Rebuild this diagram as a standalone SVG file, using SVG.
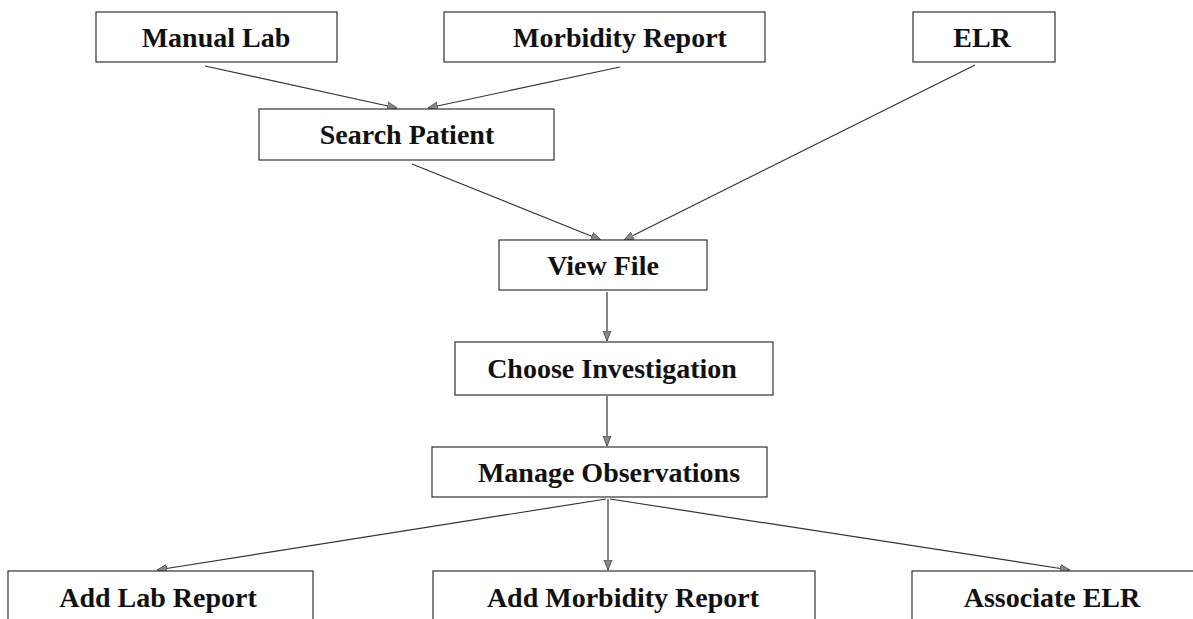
<svg xmlns="http://www.w3.org/2000/svg" width="1193" height="619" viewBox="0 0 1193 619">
<style>
.box{fill:#fff;stroke:#333;stroke-width:1.2}
.lbl{font-family:"Liberation Serif","Times New Roman",serif;font-weight:bold;font-size:28px;fill:#111;text-anchor:middle}
.con{stroke:#333;stroke-width:1.2;fill:none;marker-end:url(#ah)}
</style>
<defs>
<marker id="ah" viewBox="0 0 10 10" refX="10" refY="5" markerWidth="10" markerHeight="10" markerUnits="userSpaceOnUse" orient="auto">
<path d="M0,1 L10,5 L0,9 Z" fill="#888" stroke="#444" stroke-width="0.8"/>
</marker>
</defs>
<rect width="1193" height="619" fill="#fff"/>
<g id="connectors">
<line class="con" x1="205" y1="66" x2="397" y2="108"/>
<line class="con" x1="620" y1="67" x2="428" y2="108"/>
<line class="con" x1="412" y1="164" x2="601" y2="240"/>
<line class="con" x1="975" y1="65" x2="624" y2="240"/>
<line class="con" x1="607" y1="292" x2="607" y2="341"/>
<line class="con" x1="607" y1="396" x2="607" y2="446"/>
<line class="con" x1="608" y1="499" x2="608" y2="570"/>
<line class="con" x1="606" y1="499" x2="157" y2="570"/>
<line class="con" x1="610" y1="499" x2="1070" y2="570"/>
</g>
<g id="manual-lab"><rect class="box" x="96" y="12" width="241" height="50"/><text class="lbl" x="216" y="47">Manual Lab</text></g>
<g id="morbidity-report"><rect class="box" x="444" y="12" width="321" height="50"/><text class="lbl" x="620" y="47">Morbidity Report</text></g>
<g id="elr"><rect class="box" x="913" y="12" width="142" height="50"/><text class="lbl" x="982" y="47">ELR</text></g>
<g id="search-patient"><rect class="box" x="259" y="109" width="295" height="51"/><text class="lbl" x="407" y="144">Search Patient</text></g>
<g id="view-file"><rect class="box" x="499" y="240" width="208" height="50"/><text class="lbl" x="603" y="275">View File</text></g>
<g id="choose-investigation"><rect class="box" x="455" y="342" width="318" height="53"/><text class="lbl" x="612" y="378">Choose Investigation</text></g>
<g id="manage-observations"><rect class="box" x="432" y="447" width="335" height="50"/><text class="lbl" x="609" y="482">Manage Observations</text></g>
<g id="add-lab-report"><rect class="box" x="8" y="571" width="305" height="60"/><text class="lbl" x="158" y="607">Add Lab Report</text></g>
<g id="add-morbidity-report"><rect class="box" x="433" y="571" width="382" height="60"/><text class="lbl" x="623" y="607">Add Morbidity Report</text></g>
<g id="associate-elr"><rect class="box" x="912" y="571" width="290" height="60"/><text class="lbl" x="1052" y="607">Associate ELR</text></g>
</svg>
